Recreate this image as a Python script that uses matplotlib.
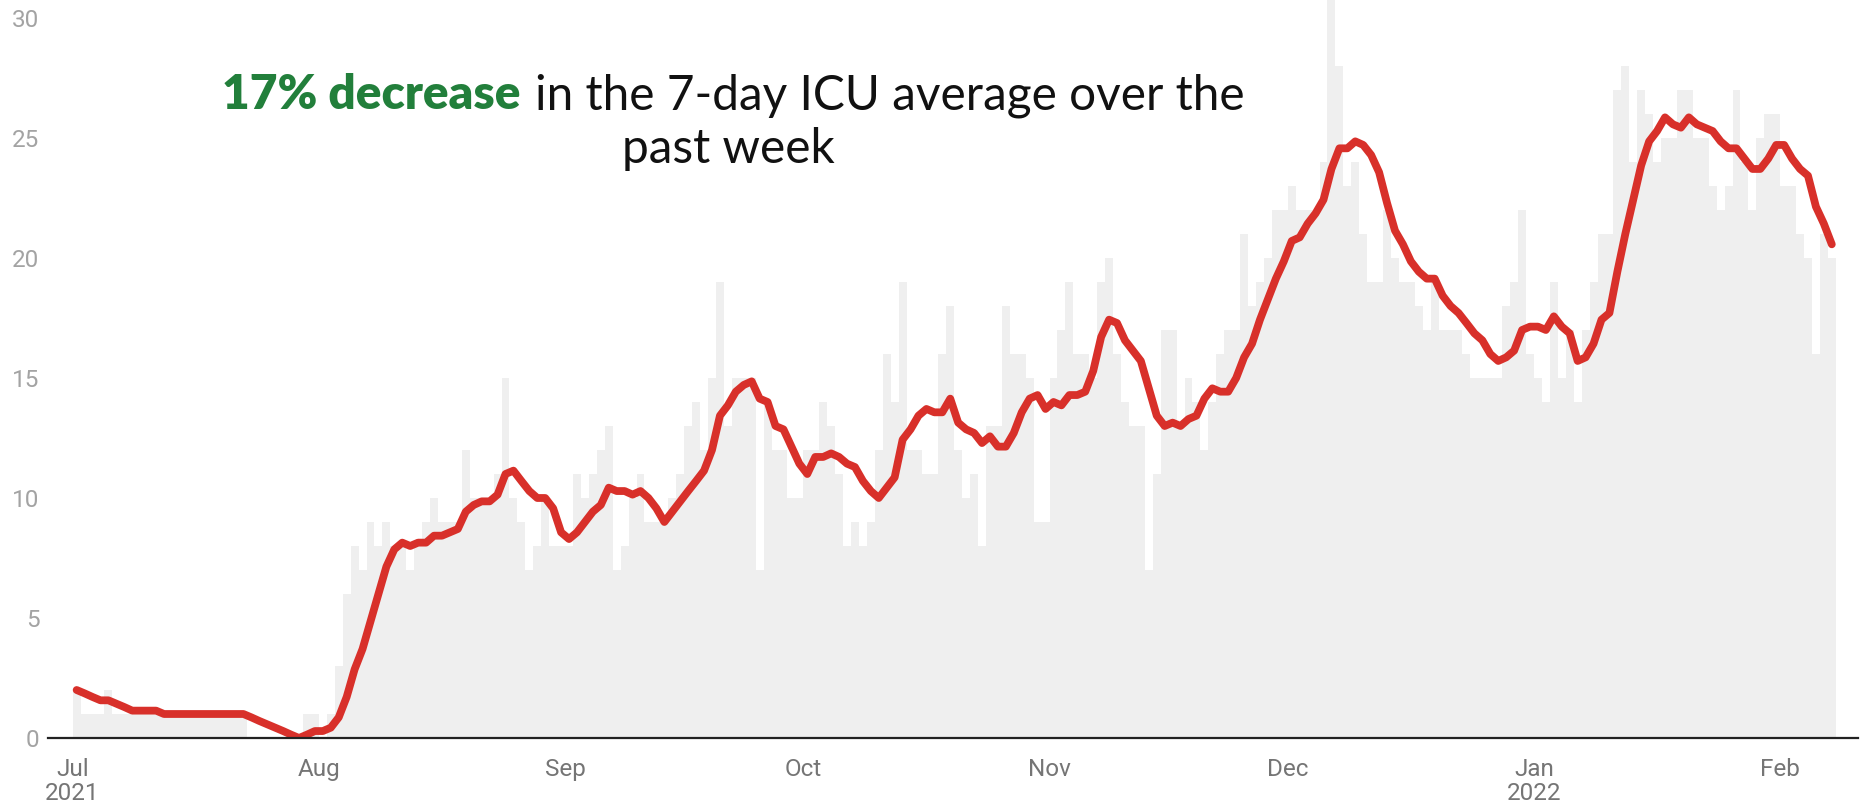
import matplotlib.pyplot as plt
import numpy as np

# daily ICU patients, 1 Jul 2021 - 7 Feb 2022
jul = [2, 1, 1, 1, 2, 1, 1, 1, 1, 1, 1, 1, 1, 1, 1, 1, 1, 1, 1, 1,
       1, 1, 0, 0, 0, 0, 0, 0, 0, 1, 1]
aug = [0, 1, 3, 6, 8, 7, 9, 8, 9, 8, 8, 7, 8, 9, 10, 9, 9, 9, 12, 10,
       10, 10, 11, 15, 10, 9, 7, 8, 10, 8, 8]
sep = [8, 11, 10, 11, 12, 13, 7, 8, 10, 11, 9, 9, 9, 10, 11, 13, 14, 12, 15, 19,
       13, 15, 15, 15, 7, 14, 12, 12, 10, 10]
oct_ = [12, 12, 14, 13, 11, 8, 9, 8, 9, 12, 16, 14, 19, 12, 12, 11, 11, 16, 18, 12,
        10, 11, 8, 13, 13, 18, 16, 16, 15, 9, 9]
nov = [15, 17, 19, 16, 16, 15, 19, 20, 16, 14, 13, 13, 7, 11, 17, 17, 13, 15, 14, 12,
       14, 16, 17, 17, 21, 18, 19, 20, 22, 22]
dec = [23, 22, 22, 22, 24, 31, 28, 23, 24, 21, 19, 19, 22, 20, 19, 19, 18, 17, 19, 17,
       17, 17, 16, 15, 15, 15, 15, 18, 19, 22, 16]
jan = [15, 14, 19, 15, 17, 14, 17, 19, 21, 21, 27, 28, 24, 27, 26, 24, 25, 25, 27, 27,
       25, 25, 23, 22, 23, 27, 24, 22, 25, 26, 26]
feb = [23, 23, 21, 20, 16, 21, 20]

# 7-day ICU average (red line)
avg_jul = [2.0, 1.86, 1.71, 1.57, 1.57, 1.43, 1.29, 1.14, 1.14, 1.14, 1.14,
           1.0, 1.0, 1.0, 1.0, 1.0, 1.0, 1.0, 1.0, 1.0, 1.0, 1.0,
           0.86, 0.71, 0.57, 0.43, 0.29, 0.14, 0.0, 0.14, 0.29]
avg_aug = [0.29, 0.43, 0.86, 1.71, 2.86, 3.71, 4.86, 6.0, 7.14, 7.86,
           8.14, 8.0, 8.14, 8.14, 8.43, 8.43, 8.57, 8.71, 9.43, 9.71,
           9.86, 9.86, 10.14, 11.0, 11.14, 10.71, 10.29, 10.0, 10.0, 9.57, 8.57]
avg_sep = [8.29, 8.57, 9.0, 9.43, 9.71, 10.43, 10.29, 10.29, 10.14, 10.29,
           10.0, 9.57, 9.0, 9.43, 9.86, 10.29, 10.71, 11.14, 12.0, 13.43,
           13.86, 14.43, 14.71, 14.86, 14.14, 14.0, 13.0, 12.86, 12.14, 11.43]
avg_oct = [11.0, 11.71, 11.71, 11.86, 11.71, 11.43, 11.29, 10.71, 10.29, 10.0,
           10.43, 10.86, 12.43, 12.86, 13.43, 13.71, 13.57, 13.57, 14.14, 13.14,
           12.86, 12.71, 12.29, 12.57, 12.14, 12.14, 12.71, 13.57, 14.14, 14.29, 13.71]
avg_nov = [14.0, 13.86, 14.29, 14.29, 14.43, 15.29, 16.71, 17.43, 17.29, 16.57,
           16.14, 15.71, 14.57, 13.43, 13.0, 13.14, 13.0, 13.29, 13.43, 14.14,
           14.57, 14.43, 14.43, 15.0, 15.86, 16.43, 17.43, 18.29, 19.14, 19.86]
avg_dec = [20.71, 20.86, 21.43, 21.86, 22.43, 23.71, 24.57, 24.57, 24.86, 24.71,
           24.29, 23.57, 22.29, 21.14, 20.57, 19.86, 19.43, 19.14, 19.14, 18.43,
           18.0, 17.71, 17.29, 16.86, 16.57, 16.0, 15.71, 15.86, 16.14, 17.0, 17.14]
avg_jan = [17.14, 17.0, 17.57, 17.14, 16.86, 15.71, 15.86, 16.43, 17.43, 17.71,
           19.43, 21.0, 22.43, 23.86, 24.86, 25.29, 25.86, 25.57, 25.43, 25.86,
           25.57, 25.43, 25.29, 24.86, 24.57, 24.57, 24.14, 23.71, 23.71, 24.14, 24.71]
avg_feb = [24.71, 24.14, 23.71, 23.43, 22.14, 21.43, 20.57]

month_starts = [0, 31, 62, 92, 123, 153, 184, 215]
month_labels = ['Jul\n2021', 'Aug', 'Sep', 'Oct', 'Nov', 'Dec', 'Jan\n2022', 'Feb']

daily = jul + aug + sep + oct_ + nov + dec + jan + feb
avg7 = avg_jul + avg_aug + avg_sep + avg_oct + avg_nov + avg_dec + avg_jan + avg_feb

W, H = 1864, 809
fig = plt.figure(figsize=(W / 100, H / 100), dpi=100)
ax = fig.add_axes([47.5 / W, 1 - 738 / H, (1858 - 47.5) / W, 738 / H])

days = np.arange(len(daily))
ax.bar(days, daily, width=1.0, align='edge', color='#efefef', linewidth=0)
ax.plot(np.arange(len(avg7)) + 0.5, avg7, color='#d8302a', lw=5.6,
        solid_capstyle='round', solid_joinstyle='round', zorder=3)

ax.set_xlim(-3.17, 224.8)
ax.set_ylim(0, 30.75)
ax.set_yticks(range(0, 31, 5))
ax.set_xticks(month_starts)
ax.set_xticklabels(month_labels, linespacing=1.05)

for s in ['top', 'right', 'left']:
    ax.spines[s].set_visible(False)
ax.spines['bottom'].set_color('#222222')
ax.spines['bottom'].set_linewidth(1.6)
ax.spines['bottom'].set_zorder(4)
ax.tick_params(axis='both', length=0)
ax.tick_params(axis='y', pad=5.8, labelsize=17.5, labelcolor='#a3a3a3')
ax.tick_params(axis='x', pad=14.5, labelsize=17.5, labelcolor='#757575')
for lab in ax.get_xticklabels() + ax.get_yticklabels():
    lab.set_fontfamily('Roboto')

# headline annotation
fig.text(521 / W, 1 - 109 / H, '17% decrease', color='#227f3b', fontsize=34.4,
         fontweight='heavy', family='Lato', ha='right', va='baseline')
fig.text(535 / W, 1 - 109 / H, 'in the 7-day ICU average over the', color='#111111',
         fontsize=34.4, family='Lato', ha='left', va='baseline')
fig.text(728 / W, 1 - 163 / H, 'past week', color='#111111', fontsize=34.4,
         family='Lato', ha='center', va='baseline')

fig.savefig('out.png', dpi=100)
